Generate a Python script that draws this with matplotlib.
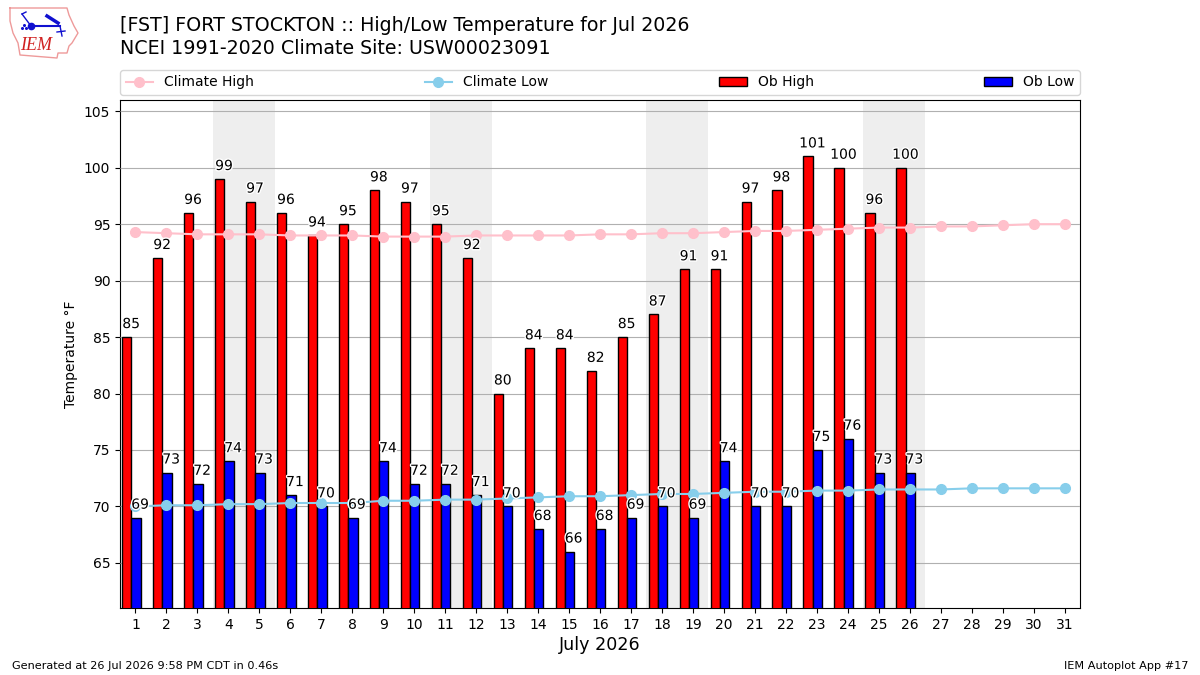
import matplotlib
matplotlib.use('Agg')
import matplotlib.pyplot as plt
import matplotlib.patheffects as pe
import numpy as np

days = np.arange(1, 32)
ob_days = np.arange(1, 27)
ob_high = [85, 92, 96, 99, 97, 96, 94, 95, 98, 97, 95, 92, 80, 84, 84, 82, 85, 87, 91, 91, 97, 98, 101, 100, 96, 100]
ob_low = [69, 73, 72, 74, 73, 71, 70, 69, 74, 72, 72, 71, 70, 68, 66, 68, 69, 70, 69, 74, 70, 70, 75, 76, 73, 73]
climate_high = [94.3, 94.2, 94.1, 94.1, 94.1, 94.0, 94.0, 94.0, 93.9, 93.9, 93.9, 94.0, 94.0, 94.0, 94.0, 94.1,
                94.1, 94.2, 94.2, 94.3, 94.4, 94.4, 94.5, 94.6, 94.7, 94.7, 94.8, 94.8, 94.9, 95.0, 95.0]
climate_low = [70.0, 70.1, 70.1, 70.2, 70.2, 70.3, 70.3, 70.3, 70.5, 70.5, 70.6, 70.6, 70.7, 70.8, 70.9, 70.9,
               71.0, 71.1, 71.1, 71.2, 71.3, 71.3, 71.4, 71.4, 71.5, 71.5, 71.5, 71.6, 71.6, 71.6, 71.6]
weekends = [(4, 5), (11, 12), (18, 19), (25, 26)]

# state outline for the logo, in logo axes units
state_x = [5, 62, 64, 69, 73, 67, 64, 62, 53, 52, 15, 13, 8, 5, 5]
state_y = [53, 53, 46, 35, 28, 18, 15, 8, 8, 3, 6, 18, 28, 40, 53]

fig = plt.figure(figsize=(12, 6.75), dpi=100)
ax = fig.add_axes([120 / 1200, 1 - 608 / 675, 960 / 1200, 508 / 675])

for start, end in weekends:
    ax.axvspan(start - 0.5, end + 0.5, color='#eeeeee', lw=0, zorder=1)
ax.grid(axis='y', color='#b0b0b0', lw=0.8)
ax.set_axisbelow(False)
for line in ax.get_ygridlines():
    line.set_zorder(2)

ax.bar(ob_days - 0.28, ob_high, width=0.3, color='red', edgecolor='k', lw=1, label='Ob High', zorder=3)
ax.bar(ob_days + 0.02, ob_low, width=0.3, color='blue', edgecolor='k', lw=1, label='Ob Low', zorder=3)
ax.plot(days, climate_high, color='pink', marker='o', ms=7, lw=1.5, label='Climate High', zorder=4)
ax.plot(days, climate_low, color='skyblue', marker='o', ms=7, lw=1.5, label='Climate Low', zorder=4)

halo = [pe.withStroke(linewidth=2, foreground='white')]
for day, high, low in zip(ob_days, ob_high, ob_low):
    ax.annotate(str(high), (day - 0.14, high), xytext=(0, 6.5), textcoords='offset points', ha='center',
                fontsize=10, path_effects=halo, zorder=5)
    ax.annotate(str(low), (day + 0.15, low), xytext=(0, 6.5), textcoords='offset points', ha='center',
                fontsize=10, path_effects=halo, zorder=5)

ax.set_xlim(0.5, 31.5)
ax.set_ylim(61, 106)
ax.set_xticks(days)
ax.set_yticks(np.arange(65, 106, 5))
ax.tick_params(labelsize=10)
ax.set_xlabel('July 2026', fontsize=12.6, labelpad=3)
ax.set_ylabel('Temperature °F', fontsize=10)

handles, labels = ax.get_legend_handles_labels()
order = [labels.index(n) for n in ['Climate High', 'Climate Low', 'Ob High', 'Ob Low']]
ax.legend([handles[i] for i in order], [labels[i] for i in order], ncol=4, mode='expand',
          loc='lower left', bbox_to_anchor=(0, 1.01, 1, 0.05), borderaxespad=0, fontsize=10)

fig.text(120 / 1200, 1 - 31 / 675, '[FST] FORT STOCKTON :: High/Low Temperature for Jul 2026', fontsize=13.7, va='baseline')
fig.text(120 / 1200, 1 - 54 / 675, 'NCEI 1991-2020 Climate Site: USW00023091', fontsize=13.7, va='baseline')
fig.text(12 / 1200, 1 - 669 / 675, 'Generated at 26 Jul 2026 9:58 PM CDT in 0.46s', fontsize=8.1, va='baseline')
fig.text(1188 / 1200, 1 - 669 / 675, 'IEM Autoplot App #17', fontsize=8.1, ha='right', va='baseline')

# IEM logo
logo = fig.add_axes([5 / 1200, 1 - 61 / 675, 80 / 1200, 58 / 675])
logo.set_xlim(0, 80)
logo.set_ylim(0, 58)
logo.axis('off')
logo.plot(state_x, state_y, color='#ee9a9a', lw=1)
logo.plot([26, 55], [35, 35], color='#1010d0', lw=1.5)
logo.plot([26, 17], [35, 47], color='#1010d0', lw=1)
logo.plot([17, 21], [47, 49], color='#1010d0', lw=1)
logo.plot([55, 57], [35, 25], color='#1010d0', lw=1)
logo.plot([52, 60], [29, 30], color='#1010d0', lw=1)
logo.plot([42, 53], [45, 38], color='#1010d0', lw=2.5)
logo.plot([26], [35], color='#1010d0', marker='o', ms=4.5)
logo.plot([19, 17, 21], [36, 33, 33], color='#1010d0', ls='none', marker='o', ms=1.2)
logo.text(15, 11, 'IEM', color='#d02020', fontsize=13, family='Liberation Serif', style='italic')

fig.savefig('out.png', dpi=100)
